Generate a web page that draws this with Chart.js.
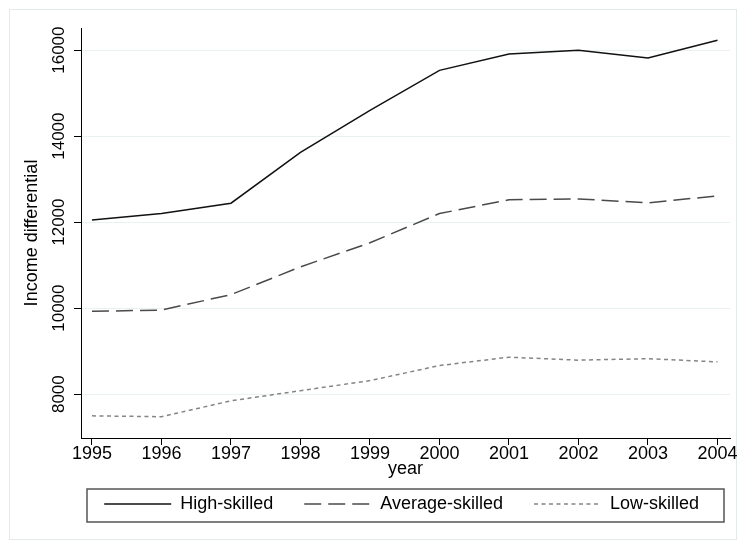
<!DOCTYPE html>
<html>
<head>
<meta charset="utf-8">
<script src="https://cdn.jsdelivr.net/npm/chart.js"></script>
<style>
  html, body { margin: 0; padding: 0; background: #fff; }
  #wrap { width: 737px; height: 540px; }
</style>
</head>
<body>
<div id="wrap"><canvas id="incomeChart" width="737" height="540"></canvas></div>
<script>
// values
const years = [1995, 1996, 1997, 1998, 1999, 2000, 2001, 2002, 2003, 2004];
const highSkilled = [12050, 12200, 12440, 13620, 14600, 15530, 15910, 16000, 15820, 16230];
const averageSkilled = [9925, 9955, 10315, 10960, 11520, 12200, 12520, 12540, 12450, 12610];
const lowSkilled = [7495, 7475, 7845, 8080, 8315, 8665, 8860, 8790, 8825, 8750];
const yTicks = [8000, 10000, 12000, 14000, 16000];

const FONT = "'Liberation Sans', Arial, Helvetica, sans-serif";
Chart.defaults.font.family = FONT;
Chart.defaults.color = '#000';

function toPoints(vals) {
    return years.map((yr, i) => ({ x: yr, y: vals[i] }));
}

// faint outer frame + box round the legend
const framePlugin = {
    id: 'frames',
    beforeDraw(chart) {
        const ctx = chart.ctx;
        ctx.save();
        ctx.strokeStyle = '#e4eaec';
        ctx.lineWidth = 1;
        ctx.strokeRect(9.5, 9.5, chart.width - 10, chart.height - 10);
        ctx.restore();
    },
    afterDraw(chart) {
        const lg = chart.legend;
        const area = chart.chartArea;
        const ctx = chart.ctx;
        ctx.save();
        ctx.strokeStyle = '#555';
        ctx.lineWidth = 1.5;
        ctx.strokeRect(area.left + 6, lg.top + 25, area.right - area.left - 12, lg.bottom - lg.top - 26);
        ctx.restore();
    }
};

new Chart(document.getElementById('incomeChart'), {
    type: 'line',
    data: {
        datasets: [{
            label: 'High-skilled',
            data: toPoints(highSkilled),
            borderColor: '#111',
            borderWidth: 1.5,
            borderDash: []
        }, {
            label: 'Average-skilled',
            data: toPoints(averageSkilled),
            borderColor: '#4a4a4a',
            borderWidth: 1.5,
            borderDash: [17, 7]
        }, {
            label: 'Low-skilled',
            data: toPoints(lowSkilled),
            borderColor: '#858585',
            borderWidth: 1.5,
            borderDash: [4, 3.5]
        }]
    },
    options: {
        responsive: false,
        animation: false,
        events: [],
        layout: { padding: { left: 10, right: 7, top: 28, bottom: 17 } },
        elements: {
            point: { radius: 0, pointStyle: 'line' },
            line: { tension: 0, fill: false }
        },
        scales: {
            x: {
                type: 'linear',
                min: 1994.842,
                max: 2004.18,
                afterBuildTicks: (scale) => { scale.ticks = years.map(v => ({ value: v })); },
                afterFit: (scale) => { scale.height = 26; },
                ticks: {
                    font: { size: 18 },
                    padding: -1.5,
                    maxRotation: 0,
                    callback: (v) => String(v)
                },
                grid: {
                    drawOnChartArea: false,
                    tickLength: 7,
                    tickColor: '#000',
                    tickWidth: 1
                },
                border: { color: '#000', width: 1 },
                title: {
                    display: true,
                    text: 'year',
                    font: { size: 18 },
                    padding: { top: 0, bottom: -15.8 }
                }
            },
            y: {
                min: 6980,
                max: 16515,
                afterBuildTicks: (scale) => { scale.ticks = yTicks.map(v => ({ value: v })); },
                afterFit: (scale) => { scale.width = 71; },
                ticks: {
                    font: { size: 17 },
                    minRotation: 90,
                    maxRotation: 90,
                    crossAlign: 'center',
                    padding: -8.6,
                    callback: (v) => String(v)
                },
                grid: {
                    color: '#eaf1f3',
                    lineWidth: 1,
                    tickLength: 7,
                    tickColor: '#000',
                    tickWidth: 1
                },
                border: { color: '#000', width: 1 },
                title: {
                    display: true,
                    text: 'Income differential',
                    font: { size: 18 },
                    padding: { top: 11.2, bottom: 0 }
                }
            }
        },
        plugins: {
            tooltip: { enabled: false },
            legend: {
                position: 'bottom',
                align: 'end',
                labels: {
                    font: { size: 18 },
                    color: '#000',
                    padding: 31,
                    usePointStyle: true,
                    pointStyleWidth: 67,
                    generateLabels(chart) {
                        const items = Chart.defaults.plugins.legend.labels.generateLabels(chart);
                        items.forEach((it, i) => {
                            const ds = chart.data.datasets[i];
                            it.pointStyle = 'line';
                            it.strokeStyle = ds.borderColor;
                            it.lineWidth = ds.borderWidth;
                            it.lineDash = ds.borderDash;
                        });
                        return items;
                    }
                }
            }
        }
    },
    plugins: [framePlugin]
});
</script>
</body>
</html>
